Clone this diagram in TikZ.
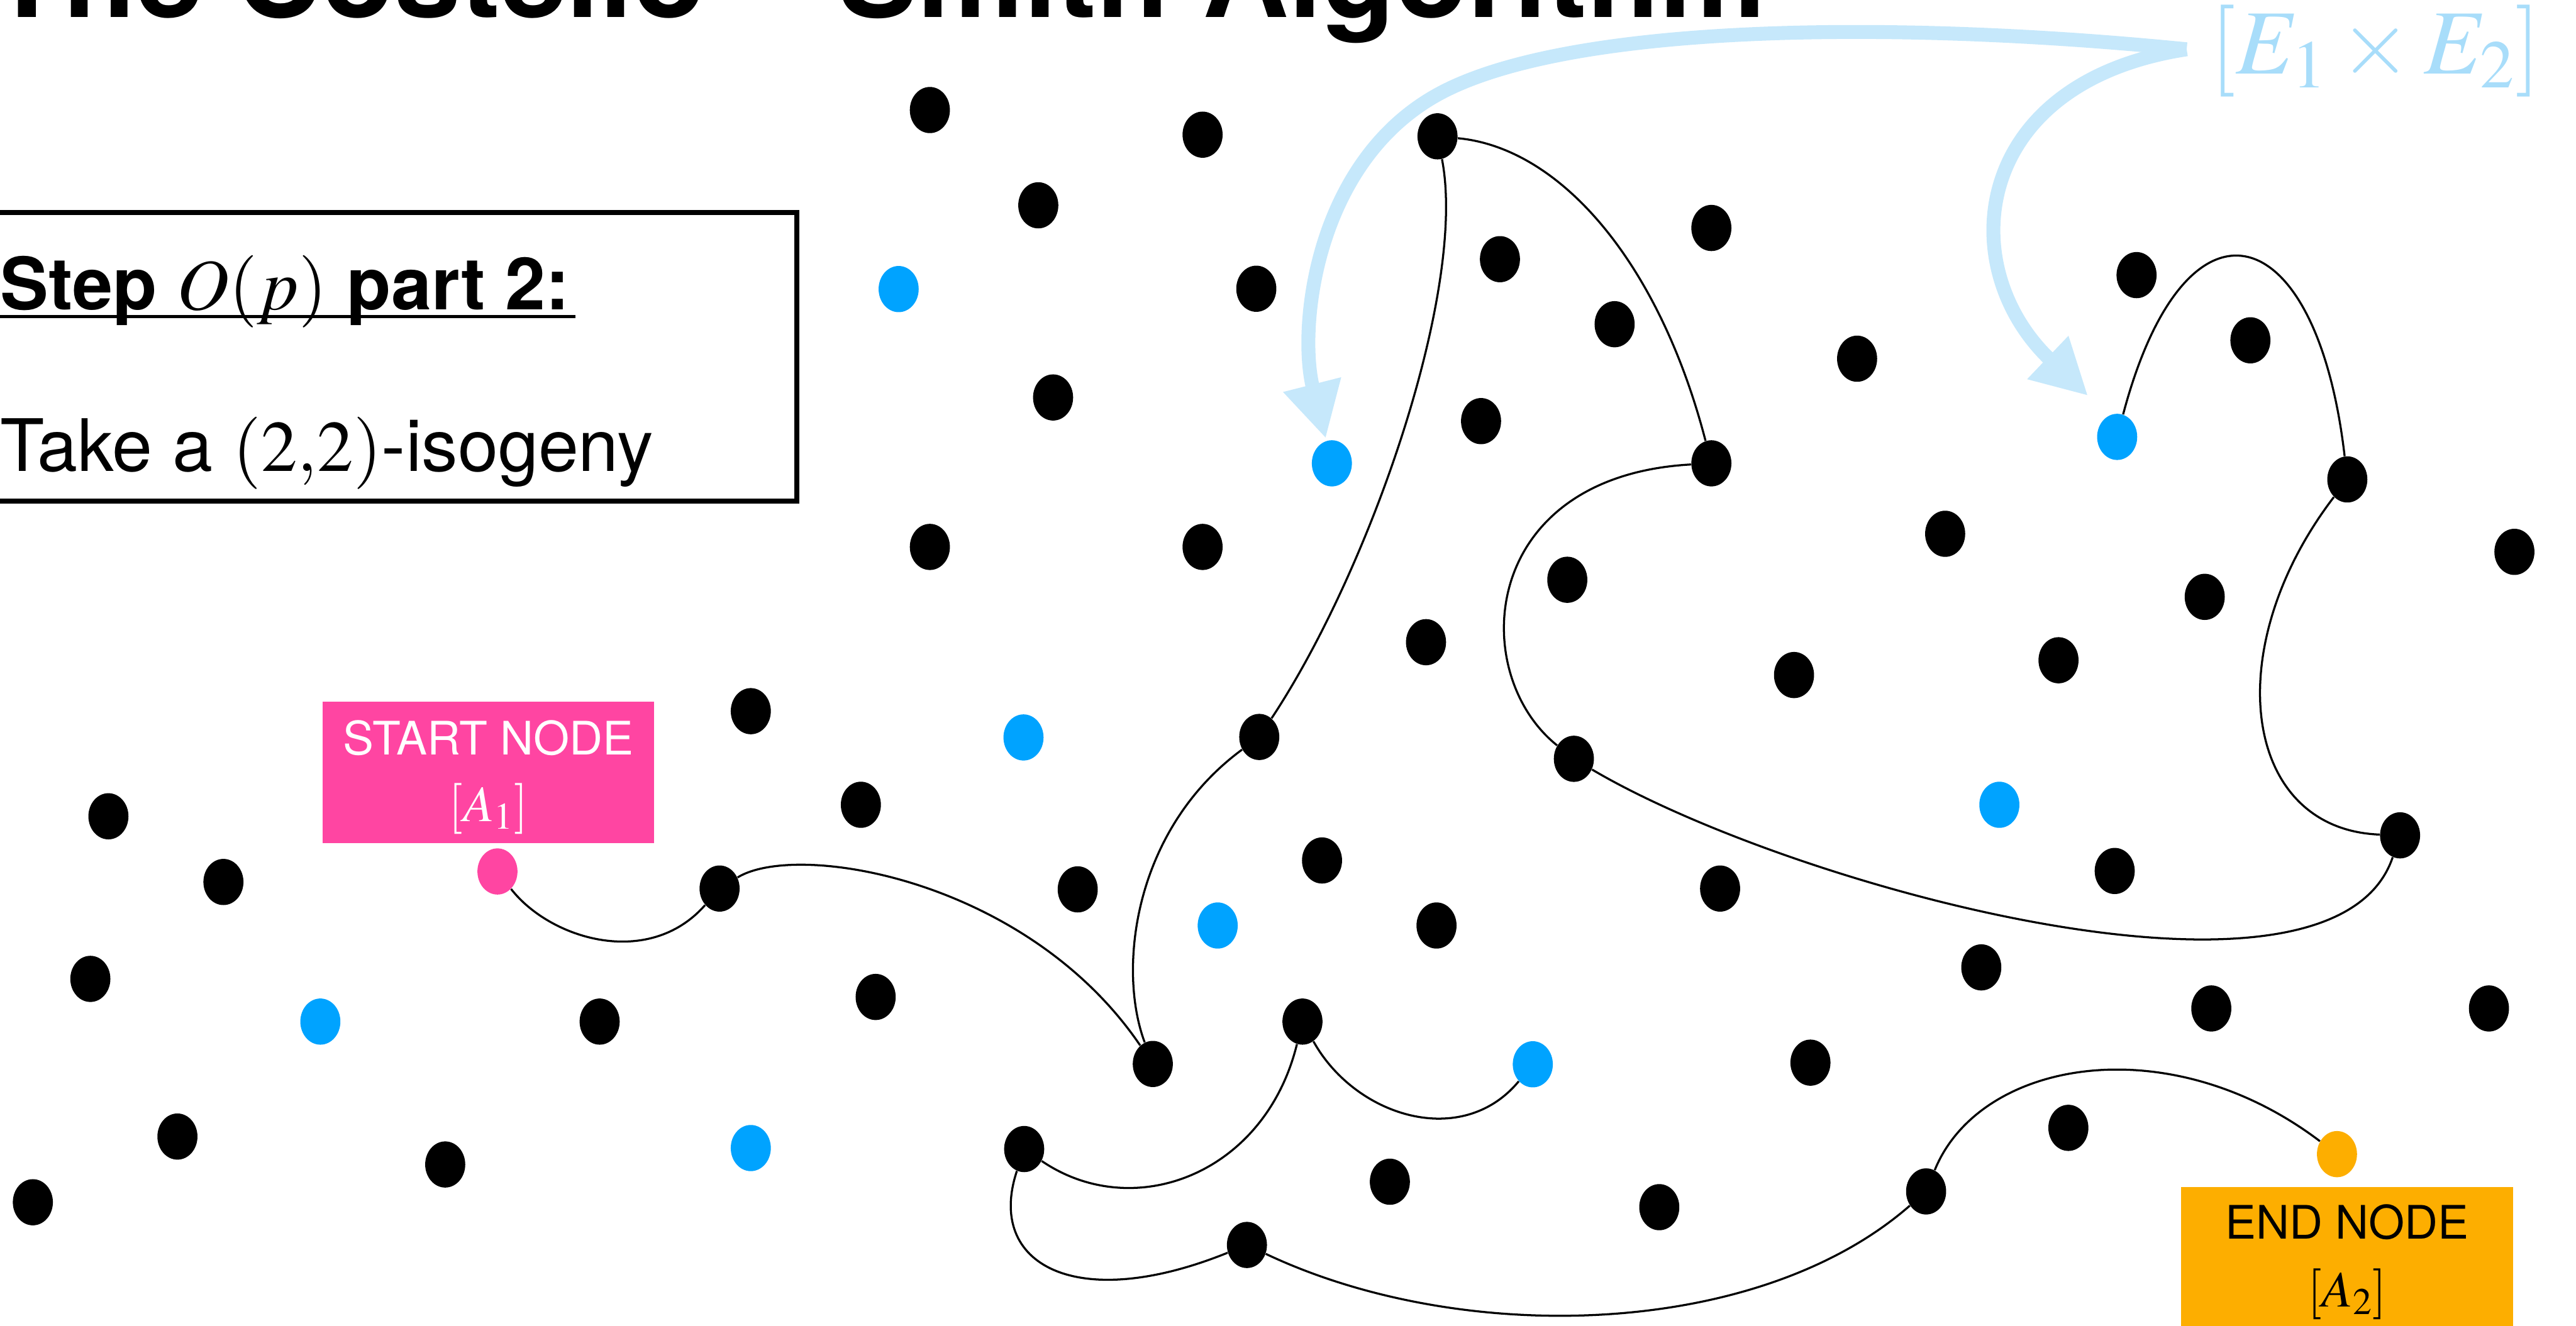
\documentclass[tikz,border=0pt]{standalone}
\usepackage{mathptmx}
\usepackage[no-math]{fontspec}
\setmainfont{TeX Gyre Heros}
\usetikzlibrary{shapes.geometric,arrows.meta}
\definecolor{gblue}{RGB}{0,163,255}
\definecolor{spink}{RGB}{255,69,162}
\definecolor{eorange}{RGB}{253,174,0}
\definecolor{arrblue}{RGB}{198,232,251}
\definecolor{lblblue}{RGB}{168,221,250}
\begin{document}
\begin{tikzpicture}[x=0.02953cm,y=-0.02953cm,
  gdot/.style={ellipse,fill=black,minimum width=0.72cm,minimum height=0.83cm,inner sep=0pt},
  bdot/.style={gdot,fill=gblue},
  link/.style={draw=black,line width=1.05pt},
  bigarrow/.style={draw=arrblue,line width=0.25cm,-{Triangle[length=1cm,width=1cm]}},
  boxtext/.style={anchor=base west,inner sep=0pt,font=\fontsize{37}{44}\selectfont},
  tagtext/.style={anchor=base,inner sep=0pt,font=\fontsize{23.6}{28}\selectfont},
  tagmath/.style={anchor=base,inner sep=0pt,font=\fontsize{26}{31}\selectfont}]
\useasboundingbox (0,0) rectangle (1568,807);
\fill[white] (0,0) rectangle (1568,807);

% title (cut off at the top edge)
\node[anchor=base west,inner sep=0pt,font=\bfseries\fontsize{61}{70}\selectfont] (title) at (-6.1,10.5) {The Costello -- Smith Algorithm};

% step box
\draw[line width=0.09cm] (-10,129.5) rectangle (485,305.1);
\node[boxtext,font=\bfseries\fontsize{37}{44}\selectfont] (steptitle) at (0,188.6) {Step $O(p)$ part 2:};
\draw[line width=0.05cm] ([yshift=-0.12cm]steptitle.base west) -- ([yshift=-0.12cm,xshift=0.1cm]steptitle.base east);
\node[boxtext] (steptext) at (0,286.8) {Take a $(2{,}2)$-isogeny};

% black dots
\node[gdot] (n1) at (566,67) {};
\node[gdot] (n2) at (732,82) {};
\node[gdot] (n3) at (875,83) {};
\node[gdot] (n4) at (632,125) {};
\node[gdot] (n5) at (764.7,175.8) {};
\node[gdot] (n6) at (913,157.8) {};
\node[gdot] (n7) at (1041.7,138.8) {};
\node[gdot] (n8) at (982.8,197.4) {};
\node[gdot] (n9) at (1130.4,218.4) {};
\node[gdot] (n10) at (1300.5,167.5) {};
\node[gdot] (n11) at (1369.8,207.2) {};
\node[gdot] (n12) at (641,242) {};
\node[gdot] (n13) at (901.5,256.4) {};
\node[gdot] (n14) at (1041.7,282.1) {};
\node[gdot] (n15) at (1428.8,291.9) {};
\node[gdot] (n16) at (566,333) {};
\node[gdot] (n17) at (732,333) {};
\node[gdot] (n18) at (954,353) {};
\node[gdot] (n19) at (1184,325) {};
\node[gdot] (n20) at (1342,363.4) {};
\node[gdot] (n21) at (1530.5,336) {};
\node[gdot] (n22) at (868,391) {};
\node[gdot] (n23) at (1092,411) {};
\node[gdot] (n24) at (1253,402) {};
\node[gdot] (n25) at (457,433) {};
\node[gdot] (n26) at (766.5,448.7) {};
\node[gdot] (n27) at (958,462) {};
\node[gdot] (n28) at (66,497) {};
\node[gdot] (n29) at (524,490) {};
\node[gdot] (n30) at (1460.9,508.6) {};
\node[gdot] (n31) at (136,537) {};
\node[gdot] (n32) at (438,541) {};
\node[gdot] (n33) at (656,541.5) {};
\node[gdot] (n34) at (804.7,523.9) {};
\node[gdot] (n35) at (1047,541) {};
\node[gdot] (n36) at (1287.2,530.3) {};
\node[gdot] (n37) at (874.4,563.5) {};
\node[gdot] (n38) at (55,596) {};
\node[gdot] (n39) at (365,622) {};
\node[gdot] (n40) at (533,607) {};
\node[gdot] (n41) at (701.7,647.8) {};
\node[gdot] (n42) at (792.8,622) {};
\node[gdot] (n43) at (1206,589) {};
\node[gdot] (n44) at (1346,614) {};
\node[gdot] (n45) at (1515,614) {};
\node[gdot] (n46) at (1102,647) {};
\node[gdot] (n47) at (108,692) {};
\node[gdot] (n48) at (271,709) {};
\node[gdot] (n49) at (623.4,699.6) {};
\node[gdot] (n50) at (846,719.5) {};
\node[gdot] (n51) at (1010,735) {};
\node[gdot] (n52) at (1172.4,725.4) {};
\node[gdot] (n53) at (1259,686.7) {};
\node[gdot] (n54) at (20,732) {};
\node[gdot] (n55) at (759,758) {};

% blue dots
\node[bdot] (B1) at (547,176) {};
\node[bdot] (B2) at (810.7,282.1) {};
\node[bdot] (B3) at (1288.7,266) {};
\node[bdot] (B4) at (623,449) {};
\node[bdot] (B5) at (1217,490) {};
\node[bdot] (B6) at (741.2,563.5) {};
\node[bdot] (B7) at (195,622) {};
\node[bdot] (B8) at (933,648) {};
\node[bdot] (B9) at (457,699) {};

% start and end nodes
\node[gdot,fill=spink] (S) at (302.8,530.6) {};
\node[gdot,fill=eorange] (E) at (1422.5,702.7) {};

% tag boxes
\node[fill=spink,minimum width=5.96cm,minimum height=2.54cm,inner sep=0pt] (startbox) at (297.3,470.4) {};
\node[tagtext,text=white] (starttxt) at (297.3,459.5) {START NODE};
\node[tagmath,text=white] (startmath) at (297.3,500.2) {$[A_1]$};
\node[fill=eorange,minimum width=5.96cm,minimum height=2.54cm,inner sep=0pt] (endbox) at (1428.7,765.7) {};
\node[tagtext,text=black] (endtxt) at (1428.7,754.5) {END NODE};
\node[tagmath,text=black] (endmath) at (1428.7,795.5) {$[A_2]$};

% walks
\draw[link] (S) .. controls (335,572) and (395,590) .. (n32);
\draw[link] (n32) .. controls (485,512) and (625,535) .. (n41);
\draw[link] (n41) .. controls (680,590) and (690,505) .. (n26);
\draw[link] (n26) .. controls (835,345) and (893,175) .. (n3);
\draw[link] (n3) .. controls (950,90) and (1010,160) .. (n14);
\draw[link] (n14) .. controls (900,290) and (893,410) .. (n27);
\draw[link] (n27) .. controls (1090,540) and (1420,630) .. (n30);
\draw[link] (n30) .. controls (1365,505) and (1350,395) .. (n15);
\draw[link] (n15) .. controls (1410,130) and (1330,110) .. (B3);
\draw[link] (n42) .. controls (825,680) and (890,700) .. (B8);
\draw[link] (n42) .. controls (770,715) and (690,745) .. (n49);
\draw[link] (n49) .. controls (600,770) and (655,800) .. (n55);
\draw[link] (n55) .. controls (890,820) and (1070,815) .. (n52);
\draw[link] (n52) .. controls (1205,645) and (1320,625) .. (E);

% product label and arrows
\node[anchor=base,inner sep=0pt,text=lblblue,font=\fontsize{47}{56}\selectfont] (prodlbl) at (1446,45) {$[E_1\times E_2]$};
\coordinate (arrstart) at (1331,30);
\coordinate (arrbend) at (880,55);
\coordinate (tip1) at (807,267);
\coordinate (tip2) at (1271,241);
\draw[bigarrow] (arrstart) .. controls (1150,12) and (960,15) .. (arrbend) .. controls (800,95) and (790,200) .. (tip1);
\draw[bigarrow] (arrstart) .. controls (1200,50) and (1188,162) .. (tip2);
\end{tikzpicture}
\end{document}
